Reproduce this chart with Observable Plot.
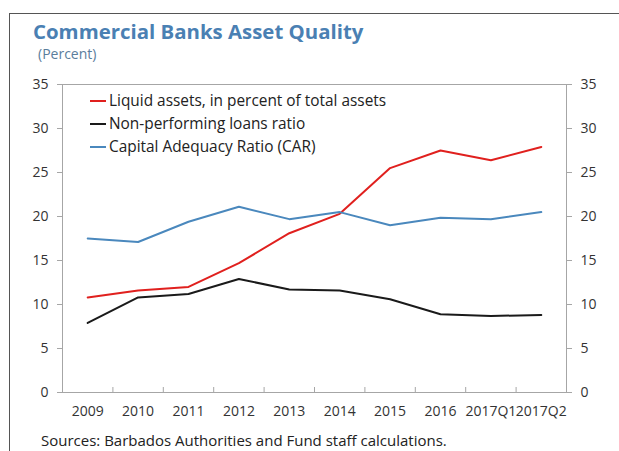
<!DOCTYPE html>
<html><head><meta charset="utf-8">
<script src="https://cdn.jsdelivr.net/npm/d3@7"></script>
<script src="https://cdn.jsdelivr.net/npm/@observablehq/plot@0.6"></script>
<style>
body{margin:0;background:#fff;width:619px;height:451px;overflow:hidden;position:relative;font-family:"Open Sans",sans-serif}
#frame{position:absolute;left:9px;top:13px;width:700px;height:500px;border-left:1px solid #555;border-top:1px solid #555}
#title{position:absolute;left:33px;top:17px;font-size:20.4px;font-weight:bold;color:#4a80b3;white-space:nowrap}
#subtitle{position:absolute;left:38px;top:44px;font-size:14px;color:#5a7d9c;white-space:nowrap}
#chart{position:absolute;left:0;top:70px}
#legend{position:absolute;left:90px;top:90px;font-size:15.4px;color:#222}
#legend div{height:22.7px;line-height:22px;white-space:nowrap;display:flex;align-items:center}
#legend span.sw{display:inline-block;width:16px;height:2px;margin-right:3px}
#source{position:absolute;left:41px;top:430px;font-size:15px;line-height:20px;color:#222;white-space:nowrap}
</style></head>
<body>
<div id="frame"></div>
<div id="title">Commercial Banks Asset Quality</div>
<div id="subtitle">(Percent)</div>
<div id="chart"></div>
<div id="legend"></div>
<div id="source">Sources: Barbados Authorities and Fund staff calculations.</div>
<script>
const categories = ["2009","2010","2011","2012","2013","2014","2015","2016","2017Q1","2017Q2"];
const liquidAssets = [10.8, 11.6, 12.0, 14.7, 18.1, 20.3, 25.5, 27.5, 26.4, 27.9];
const nplRatio = [7.9, 10.8, 11.2, 12.9, 11.7, 11.6, 10.6, 8.9, 8.7, 8.8];
const carRatio = [17.5, 17.1, 19.4, 21.1, 19.7, 20.5, 19.0, 19.85, 19.7, 20.5];
const seriesNames = ["Liquid assets, in percent of total assets","Non-performing loans ratio","Capital Adequacy Ratio (CAR)"];
const seriesColors = ["#e0201e","#1a1a1a","#4a88bd"];
const yTicks = [0,5,10,15,20,25,30,35];

const seriesValues = [liquidAssets, nplRatio, carRatio];
const rows = [];
seriesValues.forEach((vals, s) => vals.forEach((v, i) => rows.push({i, cat: categories[i], value: v, series: seriesNames[s]})));
const boundaries = d3.range(categories.length - 1).map(i => i + 0.5);

const chart = Plot.plot({
  width: 619, height: 360,
  marginLeft: 62, marginRight: 53, marginTop: 14, marginBottom: 38,
  style: {fontFamily: "'Open Sans', sans-serif", fontSize: "14px", color: "#333", background: "transparent"},
  x: {type: "linear", domain: [-0.5, categories.length - 0.5]},
  y: {domain: [0, 35]},
  color: {domain: seriesNames, range: seriesColors},
  marks: [
    Plot.frame({stroke: "#a6a6a6"}),
    Plot.axisY({ticks: yTicks, tickSize: 5, tickPadding: 9, label: null, stroke: "#a6a6a6", fill: "#333"}),
    Plot.axisY({anchor: "right", ticks: yTicks, tickSize: 5, tickPadding: 9, label: null, stroke: "#a6a6a6", fill: "#333"}),
    Plot.axisX({ticks: d3.range(categories.length), tickSize: 0, tickPadding: 14, tickFormat: i => categories[i], label: null, fill: "#333"}),
    Plot.ruleX(boundaries, {x: d => d, y1: 0, y2: 0, insetTop: -5, stroke: "#a6a6a6"}),
    Plot.line(rows, {x: "i", y: "value", z: "series", stroke: "series", strokeWidth: 2, curve: "linear"})
  ]
});
document.getElementById("chart").appendChild(chart);

const legend = document.getElementById("legend");
seriesNames.forEach((name, s) => {
  const d = document.createElement("div");
  const sw = document.createElement("span");
  sw.className = "sw"; sw.style.background = seriesColors[s];
  d.appendChild(sw);
  d.appendChild(document.createTextNode(name));
  legend.appendChild(d);
});
</script>
</body></html>
